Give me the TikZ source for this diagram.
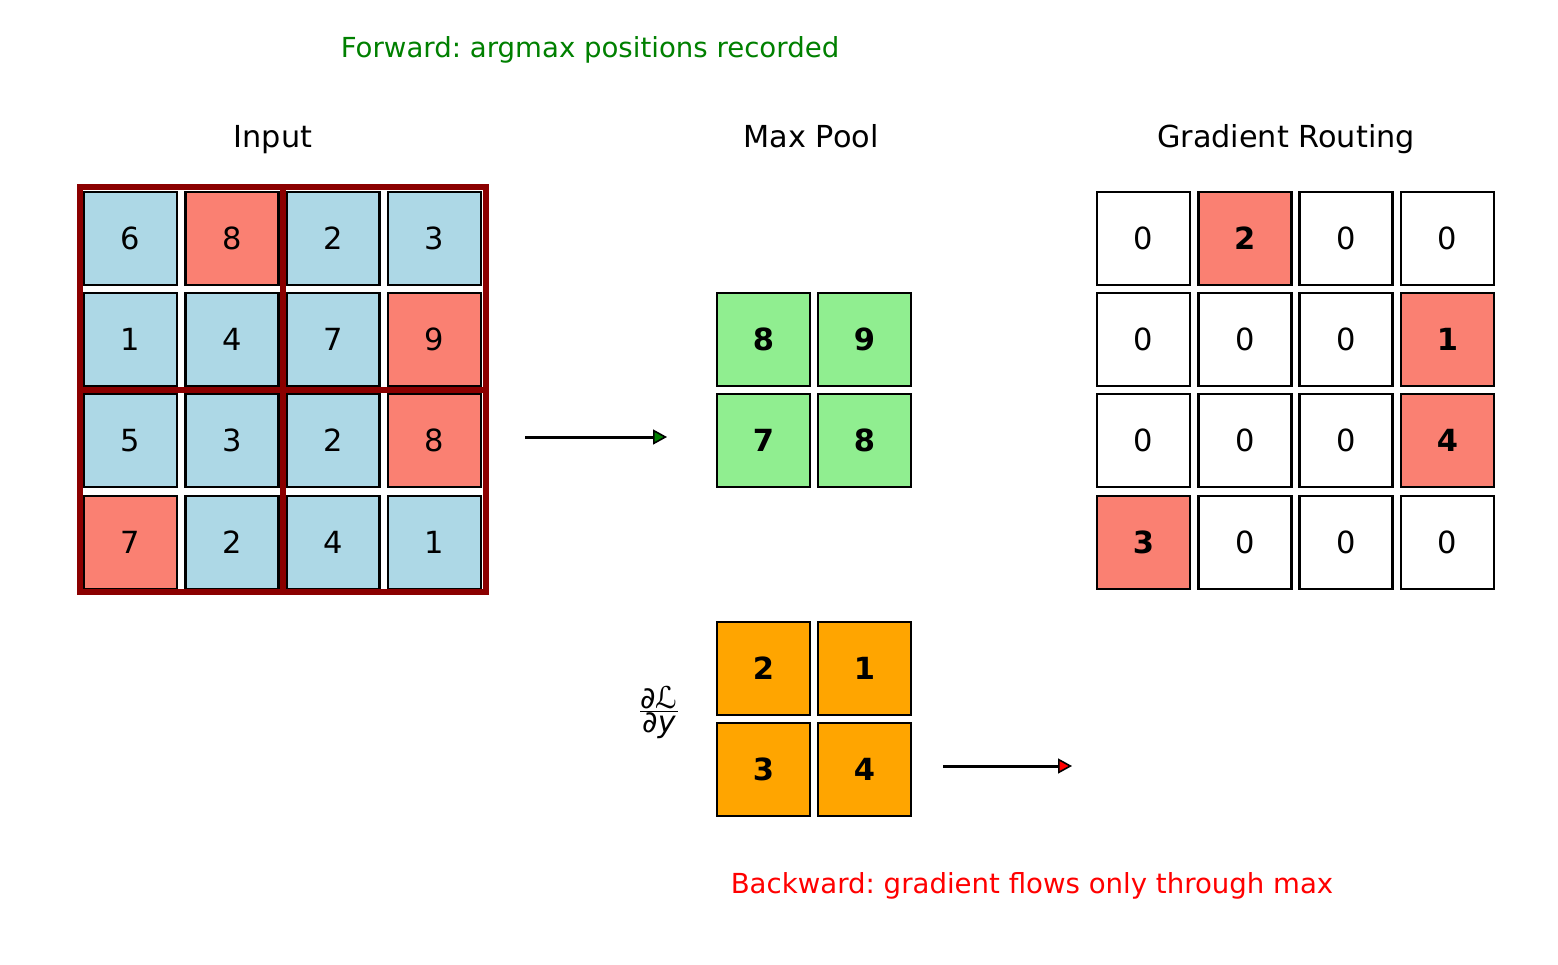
\documentclass[tikz,border=0pt]{standalone}
\usepackage{fontspec}
\setmainfont{DejaVu Sans}
\frenchspacing
\usetikzlibrary{arrows.meta}
\definecolor{lblue}{RGB}{173,216,230}
\definecolor{salmon}{RGB}{250,128,114}
\definecolor{lgreen}{RGB}{144,238,144}
\definecolor{orng}{RGB}{255,165,0}
\definecolor{dred}{RGB}{139,0,0}
\definecolor{fgreen}{RGB}{0,128,0}
\definecolor{rred}{RGB}{255,0,0}
\begin{document}
\begin{tikzpicture}[x=1pt,y=-1pt,
  cell/.style={draw=black, line width=2.6pt, minimum size=93pt, inner sep=0pt, font=\fontsize{30.5}{33}\selectfont},
  bcell/.style={cell, font=\fontsize{30.5}{33}\selectfont\bfseries},
  title/.style={font=\fontsize{30.3}{33}\selectfont, anchor=base, inner sep=0pt},
  note/.style={font=\fontsize{27.6}{30}\selectfont, anchor=base, inner sep=0pt},
  frame/.style={draw=dred, line width=5.5pt},
  flow/.style={line width=3pt}
]
\useasboundingbox (0,0) rectangle (1558,964);
\fill[white] (0,0) rectangle (1558,964);

\node[note, text=fgreen] (fwd) at (590,57.5) {Forward: argmax positions recorded};
\node[title] (tin) at (273,147) {Input};
\node[title] (tmp) at (811,147) {Max Pool};
\node[title] (tgr) at (1286,147) {Gradient Routing};

% input grid
\foreach \r/\y/\vals in {0/238.5/{6/lblue,8/salmon,2/lblue,3/lblue},
                         1/339.5/{1/lblue,4/lblue,7/lblue,9/salmon},
                         2/440.5/{5/lblue,3/lblue,2/lblue,8/salmon},
                         3/542.5/{7/salmon,2/lblue,4/lblue,1/lblue}}{
  \foreach \v/\c [count=\j from 0] in \vals {
    \node[cell, fill=\c] (in\r\j) at ({130.5+101.3*\j},\y) {\v};
  }
}
\draw[frame] (80,187) rectangle (283,390);
\draw[frame] (283,187) rectangle (486,390);
\draw[frame] (80,390) rectangle (283,592);
\draw[frame] (283,390) rectangle (486,592);

% max pool
\node[bcell, fill=lgreen] (mp00) at (763.5,339.5) {8};
\node[bcell, fill=lgreen] (mp01) at (864.5,339.5) {9};
\node[bcell, fill=lgreen] (mp10) at (763.5,440.5) {7};
\node[bcell, fill=lgreen] (mp11) at (864.5,440.5) {8};

% upstream gradient
\node[bcell, fill=orng] (g00) at (763.5,668.5) {2};
\node[bcell, fill=orng] (g01) at (864.5,668.5) {1};
\node[bcell, fill=orng] (g10) at (763.5,769.5) {3};
\node[bcell, fill=orng] (g11) at (864.5,769.5) {4};
\node[font=\fontsize{30}{32}\selectfont, inner sep=0pt] (dldy) at (659,712)
  {$\frac{\hbox{∂ℒ}}{\hbox{∂\itshape y}}$};

% gradient routing
\foreach \r/\y/\vals in {0/238.5/{0/white/n,2/salmon/b,0/white/n,0/white/n},
                         1/339.5/{0/white/n,0/white/n,0/white/n,1/salmon/b},
                         2/440.5/{0/white/n,0/white/n,0/white/n,4/salmon/b},
                         3/542.5/{3/salmon/b,0/white/n,0/white/n,0/white/n}}{
  \foreach \v/\c/\b [count=\j from 0] in \vals {
    \if\b b
      \node[bcell, fill=\c] (gr\r\j) at ({1143.5+101.3*\j},\y) {\v};
    \else
      \node[cell, fill=\c] (gr\r\j) at ({1143.5+101.3*\j},\y) {\v};
    \fi
  }
}

% arrows
\coordinate (a1s) at (525,437);
\coordinate (a1e) at (667,437);
\coordinate (a2s) at (943,766);
\coordinate (a2e) at (1072,766);
\draw[flow, -{Triangle[length=14pt,width=15pt,line width=1.6pt,fill=fgreen]}] (a1s) -- (a1e);
\draw[flow, -{Triangle[length=14pt,width=15pt,line width=1.6pt,fill=rred]}] (a2s) -- (a2e);

\node[note, text=rred] (bwd) at (1032,893.5) {Backward: gradient flows only through max};
\end{tikzpicture}
\end{document}
